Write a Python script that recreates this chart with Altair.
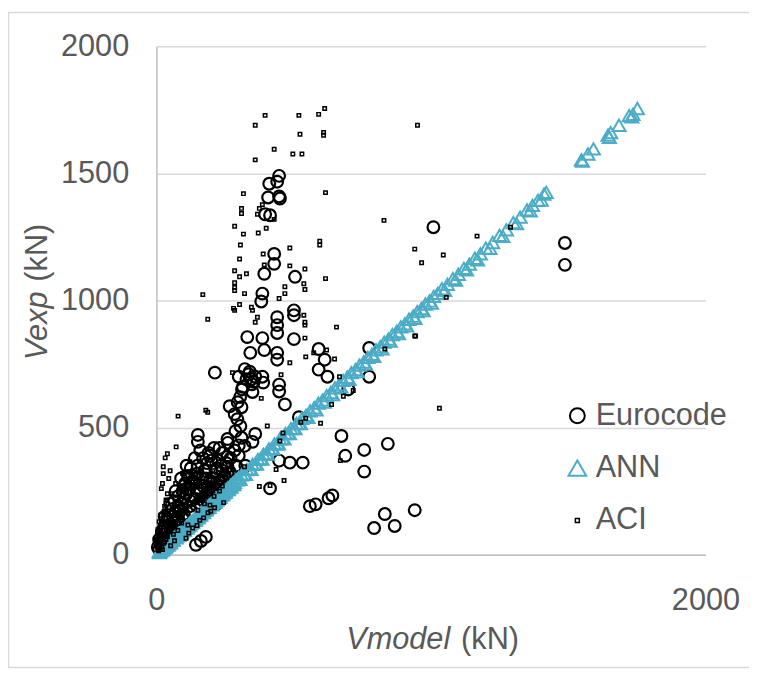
import altair as alt
import pandas as pd

# ---- data (kN) ----
euro_x = [447, 411, 440, 407, 447, 450, 396, 414, 429, 429, 393, 505, 386, 382, 501,
          440, 501, 440, 440, 331, 386, 501, 342, 393, 440, 440, 591, 613, 591, 623,
          775, 775, 213, 386, 389, 447, 447, 468, 267, 285, 295, 288, 306, 259, 360,
          350, 321, 519, 699, 674, 688, 757, 757, 843, 447, 486, 533, 414, 559, 580,
          627, 641, 832, 793, 868, 941, 151, 151, 195, 259, 259, 259, 324, 144, 162,
          180, 1009, 1488, 1488,
          305, 350, 315, 355, 300, 340, 322, 360, 312, 348, 328, 336, 296, 310, 345,
          20, 30, 15, 40, 50, 60, 70, 80, 90, 100, 110, 120, 130, 140, 150, 160, 170,
          180, 190, 200, 210, 220, 230, 240, 250, 100, 80, 60, 120, 140, 160, 180, 200,
          220, 25, 35, 45, 10, 55, 65, 75, 85, 95, 105, 115, 125, 135, 145, 155, 165,
          175, 185, 195, 205, 215, 225, 235, 245, 255, 270, 285, 300, 310, 260, 230,
          70, 90, 50, 30, 110, 20, 40, 12, 28, 65,
          150, 170, 190, 210, 160, 200, 240, 250, 180, 220, 140, 120, 100, 80, 60, 40,
          30, 20, 10, 5, 48, 58, 88, 98, 128, 148, 168, 188, 208, 228, 248, 268, 290, 300]
euro_y = [1490, 1459, 1467, 1405, 1409, 1401, 1339, 1335, 1183, 1144, 1105, 1093, 1027, 996, 961,
          934, 942, 903, 872, 856, 852, 848, 794, 805, 794, 767, 809, 767, 728, 700,
          813, 700, 716, 700, 677, 669, 642, 591, 584, 553, 533, 486, 506, 455, 475,
          444, 428, 541, 650, 467, 389, 412, 327, 436, 370, 362, 362, 261, 191, 198,
          222, 233, 160, 105, 113, 175, 471, 444, 389, 385, 346, 319, 350, 39, 54,
          70, 1288, 1226, 1140,
          620, 640, 660, 680, 700, 720, 730, 700, 650, 670, 690, 710, 600, 580, 690,
          60, 80, 40, 100, 120, 150, 170, 190, 200, 220, 240, 260, 280, 300, 320, 250, 270,
          230, 210, 280, 300, 260, 240, 330, 310, 160, 140, 100, 190, 220, 200, 180, 220,
          200, 30, 50, 70, 20, 90, 130, 110, 170, 250, 280, 310, 340, 290, 260, 240, 300,
          330, 360, 290, 250, 330, 370, 350, 290, 360, 380, 410, 430, 460, 440, 420,
          250, 300, 200, 150, 350, 90, 130, 50, 110, 210,
          350, 380, 400, 420, 410, 370, 400, 260, 300, 340, 380, 300, 270, 230, 180, 140,
          110, 90, 60, 30, 48, 75, 120, 145, 170, 190, 215, 245, 265, 285, 305, 325, 350, 390]

ann_x = [10, 15, 20, 25, 30, 35, 40, 45, 50, 55, 60, 65, 70, 75, 80, 85, 90, 95, 100, 105,
         110, 115, 120, 125, 130, 135, 140, 145, 150, 155, 160, 165, 170, 175, 180, 185, 190,
         195, 200, 205, 210, 215, 220, 225, 230, 235, 240, 245, 250, 255, 260, 265, 270, 275,
         280, 285, 290, 295, 300, 310, 320, 330, 340, 350, 360, 370, 380, 390, 400, 410, 420,
         430, 440, 450, 460, 470, 480, 490, 500, 510, 520, 530, 545, 560, 575, 590, 605, 620,
         635, 650, 665, 680, 695, 710, 725, 740, 755, 770, 785, 800, 815, 830, 845, 860, 875,
         890, 905, 920, 935, 950, 965, 980, 995, 1010, 1025, 1040, 1060, 1080, 1100, 1120,
         1140, 1160, 1180, 1200, 1225, 1250, 1275, 1300, 1325, 1350, 1370, 1390, 1412, 1420,
         1548, 1572, 1592, 1645, 1655, 1685, 1722, 1736, 1752,
         12, 22, 32, 42, 52, 62, 72, 82, 92, 102, 112, 122, 132, 142, 152, 162, 172, 182,
         192, 202, 212, 222, 232, 242, 252, 262, 272, 282, 305, 325, 345, 365, 385, 405,
         425, 445, 465, 485, 505, 525, 552, 582, 612, 642, 672, 702, 732, 762, 792, 822,
         852, 882, 912, 942, 972, 1002, 1050, 1090, 1130, 1170, 1215, 1262, 1312, 1362,
         1402, 1552, 1650, 1732]
ann_y = [12, 14, 22, 24, 33, 34, 42, 43, 52, 56, 58, 68, 71, 73, 83, 84, 92, 94, 103, 104,
         112, 113, 124, 123, 133, 134, 143, 144, 154, 153, 163, 166, 172, 174, 184, 183, 193,
         197, 203, 204, 214, 213, 224, 226, 233, 234, 244, 243, 254, 256, 263, 264, 274, 276,
         283, 284, 295, 294, 304, 314, 318, 335, 338, 355, 358, 375, 378, 395, 398, 416, 418,
         436, 437, 456, 458, 476, 478, 496, 497, 516, 518, 536, 548, 566, 578, 596, 608, 626,
         638, 656, 668, 686, 698, 716, 728, 746, 758, 776, 788, 806, 818, 836, 848, 866, 878,
         896, 908, 926, 938, 956, 968, 986, 998, 1016, 1028, 1046, 1063, 1086, 1103, 1126,
         1143, 1166, 1183, 1206, 1228, 1256, 1278, 1306, 1328, 1356, 1374, 1394, 1418, 1425,
         1553, 1576, 1596, 1650, 1660, 1689, 1727, 1732, 1755,
         8, 18, 28, 38, 47, 57, 66, 77, 86, 96, 106, 116, 126, 136, 146, 156, 166, 176,
         186, 196, 206, 216, 226, 236, 246, 256, 266, 276, 296, 316, 336, 356, 376, 396,
         416, 436, 456, 476, 496, 516, 540, 570, 600, 630, 660, 690, 720, 750, 780, 810,
         840, 870, 900, 930, 960, 990, 1040, 1080, 1120, 1160, 1205, 1252, 1302, 1352,
         1395, 1548, 1642, 1722]

aci_x = [396, 519, 591, 613, 360, 523, 609, 609, 429, 497, 530, 360, 951, 317, 616, 829,
         310, 310, 375, 386, 368, 429, 285, 317, 371, 400, 306, 595, 595, 486, 389, 303,
         393, 486, 541, 285, 303, 328, 285, 285, 285, 321, 468, 468, 537, 541, 616, 447,
         169, 941, 966, 303, 346, 281, 285, 350, 368, 360, 187, 537, 541, 541, 656, 541,
         941, 832, 620, 573, 649, 486, 544, 277, 454, 667, 717, 681, 638, 382, 180, 187,
         79, 544, 526, 598, 404, 461, 450, 321, 436, 465, 375, 414, 670, 72, 40, 32, 122,
         25, 25, 151, 195, 115, 198, 1290, 1168, 1045, 1056, 1031, 944,
         10, 15, 20, 25, 30, 35, 40, 45, 50, 55, 60, 65, 70, 75, 80, 90, 100, 110, 120,
         130, 140, 150, 160, 170, 180, 190, 200, 210, 220, 230, 240, 12, 18, 22, 28, 35,
         42, 48, 55, 62, 70, 85, 95, 105, 125, 135, 145, 165, 175, 185, 205, 215, 225,
         8, 14, 26, 38, 52, 66, 78, 92, 108, 118, 132, 148, 158, 172, 188, 212, 245,
         5, 8, 12, 16, 20, 24, 28, 6, 10, 15, 30, 35, 40, 18, 22, 45, 50, 58, 68, 85,
         100, 115, 130, 160, 190, 210, 225, 240, 250, 260]
aci_y = [1728, 1728, 1732, 1755, 1689, 1654, 1661, 1650, 1595, 1576, 1576, 1553, 1689, 1420,
         1424, 1315, 1362, 1342, 1362, 1377, 1339, 1319, 1292, 1261, 1265, 1284, 1218, 1233,
         1218, 1206, 1183, 1163, 1140, 1136, 1124, 1117, 1093, 1105, 1070, 1051, 1039, 1027,
         1054, 1027, 1066, 1043, 1086, 1008, 1023, 1202, 1148, 984, 973, 969, 961, 961, 934,
         914, 926, 942, 914, 903, 895, 852, 860, 809, 805, 794, 770, 755, 778, 716, 708, 700,
         646, 623, 591, 615, 568, 560, 545, 537, 521, 517, 506, 479, 447, 346, 335, 292, 268,
         272, 370, 424, 397, 381, 366, 346, 319, 175, 195, 117, 171, 1288, 1253, 1179, 1012,
         576, 860,
         40, 60, 30, 80, 50, 100, 70, 120, 90, 140, 110, 160, 130, 180, 150, 200, 170, 230,
         190, 250, 210, 270, 230, 290, 250, 310, 270, 230, 290, 250, 310, 90, 130, 20, 160,
         60, 200, 110, 240, 80, 280, 150, 320, 180, 260, 300, 220, 340, 200, 280, 330, 260,
         300, 15, 25, 45, 75, 35, 55, 95, 125, 65, 85, 105, 115, 135, 145, 165, 185, 205,
         20, 45, 70, 95, 120, 145, 170, 100, 130, 155, 190, 215, 240, 260, 280, 300, 330,
         180, 210, 240, 260, 290, 310, 330, 360, 390, 350, 270, 300, 320]

series_order = ["Eurocode", "ANN", "ACI"]
series_colors = ["#000000", "#4bacc6", "#000000"]
series_shapes = ["circle", "triangle-up", "square"]

df = pd.concat([
    pd.DataFrame({"x": euro_x, "y": euro_y, "series": "Eurocode"}),
    pd.DataFrame({"x": ann_x, "y": ann_y, "series": "ANN"}),
    pd.DataFrame({"x": aci_x, "y": aci_y, "series": "ACI"}),
], ignore_index=True)
df["ord"] = range(len(df))

FONT = "Liberation Sans"
GREY = "#595959"
FS = 31

points = alt.Chart(df).mark_point(filled=False, opacity=1).encode(
    x=alt.X("x:Q", scale=alt.Scale(domain=[0, 2000], nice=False),
            axis=alt.Axis(values=[0, 2000], grid=False, ticks=False, title=None,
                          format="d",
                          labelFontSize=FS, labelFont=FONT, labelColor=GREY,
                          labelBaseline="alphabetic", labelPadding=55,
                          domainColor="#bfbfbf", domainWidth=1.5,
                          labelFlush=False, labelOverlap=False)),
    y=alt.Y("y:Q", scale=alt.Scale(domain=[0, 2000], nice=False),
            axis=alt.Axis(values=[0, 500, 1000, 1500, 2000], grid=True, ticks=False,
                          title=None, gridColor="#d9d9d9", gridWidth=1.5, format="d",
                          labelFontSize=FS, labelFont=FONT, labelColor=GREY,
                          labelPadding=28, domainColor="#bfbfbf", domainWidth=1.5,
                          labelFlush=False, labelOverlap=False)),
    color=alt.Color("series:N", scale=alt.Scale(domain=series_order, range=series_colors),
                    legend=None),
    shape=alt.Shape("series:N", scale=alt.Scale(domain=series_order, range=series_shapes),
                    legend=None),
    size=alt.Size("series:N", scale=alt.Scale(type="ordinal", domain=series_order,
                                              range=[140, 175, 12]),
                  legend=None),
    strokeWidth=alt.StrokeWidth("series:N",
                                scale=alt.Scale(type="ordinal", domain=series_order,
                                                range=[2.2, 2, 1.5]),
                                legend=None),
    order=alt.Order("ord:Q"),
)

# legend-only layer (no rows drawn; legend entries come from the scale domain)
leg_df = pd.DataFrame({"series": series_order})
legend_layer = alt.Chart(leg_df).transform_filter("false").mark_point(
    filled=False, opacity=1).encode(
    color=alt.Color("series:N", scale=alt.Scale(domain=series_order, range=series_colors),
                    legend=alt.Legend(title=None, orient="none", legendX=410, legendY=358,
                                      labelFontSize=FS, labelFont=FONT, labelColor=GREY,
                                      labelOffset=3, rowPadding=21)),
    shape=alt.Shape("series:N", scale=alt.Scale(domain=series_order, range=series_shapes)),
    size=alt.Size("series:N", scale=alt.Scale(type="ordinal", domain=series_order,
                                              range=[227, 320, 16])),
    strokeWidth=alt.StrokeWidth("series:N",
                                scale=alt.Scale(type="ordinal", domain=series_order,
                                                range=[2, 2, 1.5])),
)

title_df = pd.DataFrame({"k": [0]})
base_text = alt.Chart(title_df)

xt1 = base_text.mark_text(font=FONT, fontSize=FS, fontStyle="italic", color=GREY,
                          align="right", baseline="alphabetic").encode(
    x=alt.value(297), y=alt.value(609), text=alt.value("Vmodel"))
xt2 = base_text.mark_text(font=FONT, fontSize=FS, color=GREY,
                          align="left", baseline="alphabetic").encode(
    x=alt.value(308), y=alt.value(609), text=alt.value("(kN)"))
yt1 = base_text.mark_text(font=FONT, fontSize=FS, fontStyle="italic", color=GREY,
                          align="right", baseline="alphabetic", angle=270).encode(
    x=alt.value(-111), y=alt.value(248), text=alt.value("Vexp"))
yt2 = base_text.mark_text(font=FONT, fontSize=FS, color=GREY,
                          align="left", baseline="alphabetic", angle=270).encode(
    x=alt.value(-111), y=alt.value(238), text=alt.value("(kN)"))

border = base_text.mark_rect(fillOpacity=0, stroke="#d9d9d9",
                             strokeWidth=1.5).encode(
    x=alt.value(-149.5), x2=alt.value(640), y=alt.value(-34), y2=alt.value(628))

chart = alt.layer(border, points, legend_layer, xt1, xt2, yt1, yt2).resolve_scale(
    color="independent", shape="independent", size="independent",
    strokeWidth="independent",
).properties(
    width=555, height=514,
    autosize=alt.AutoSizeParams(type="none"),
    padding={"left": 150, "top": 35, "right": 44, "bottom": 120},
).configure_view(stroke=None)

chart.save("out.html", embed_options={"renderer": "svg", "actions": False})
